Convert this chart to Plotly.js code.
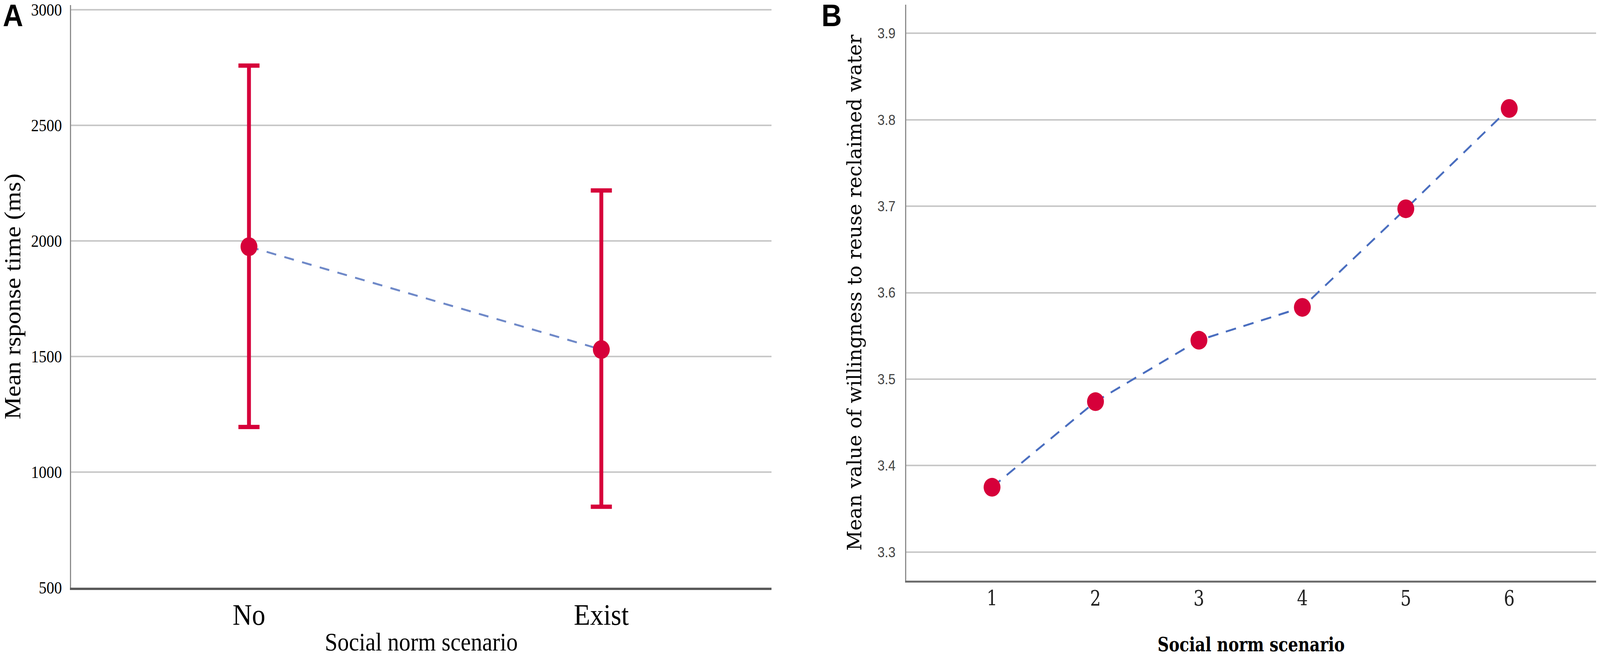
<!DOCTYPE html>
<html><head><meta charset="utf-8">
<script src="https://cdn.plot.ly/plotly-3.0.1.min.js"></script>
<style>html,body{margin:0;padding:0;background:#fff;overflow:hidden}#chart{position:absolute;left:0;top:0;width:4550px;height:1680px;transform-origin:0 0}</style>
</head><body><div id="chart"></div>
<script>
// ---- Panel A data ----
const scenariosA = ['No', 'Exist'];
const meanA = [1975, 1530];
const upperA = [2758, 2218];
const lowerA = [1195, 850];
const yTicksA = [500, 1000, 1500, 2000, 2500, 3000];

// ---- Panel B data ----
const scenariosB = [1, 2, 3, 4, 5, 6];
const meanB = [3.375, 3.474, 3.545, 3.583, 3.697, 3.813];
const yTicksB = [3.3, 3.4, 3.5, 3.6, 3.7, 3.8, 3.9];

const W = 4550, H = 1680;
const px = v => v / W;
const py = v => 1 - v / H;

const RED = '#d6003a';
const SERIF = 'Liberation Serif, Times New Roman, serif';
const SERIF_B = 'DejaVu Serif Condensed, DejaVu Serif, serif';
const SANS = 'Liberation Sans, Arial, sans-serif';

const errPlus = meanA.map((m, i) => upperA[i] - m);
const errMinus = meanA.map((m, i) => m - lowerA[i]);

const traces = [
  { x: scenariosA, y: meanA, xaxis: 'x', yaxis: 'y', mode: 'lines', type: 'scatter',
    line: { color: '#6f89c8', width: 5, dash: '28px,24px' }, hoverinfo: 'skip', showlegend: false },
  { x: scenariosA, y: meanA, xaxis: 'x', yaxis: 'y', mode: 'markers', type: 'scatter',
    marker: { color: RED, size: 48 },
    error_y: { type: 'data', array: errPlus, arrayminus: errMinus, symmetric: false,
               color: RED, thickness: 11, width: 30 }, showlegend: false },
  { x: scenariosB, y: meanB, xaxis: 'x2', yaxis: 'y2', mode: 'lines+markers', type: 'scatter',
    line: { color: '#4a6ebf', width: 5, dash: '30px,22px' },
    marker: { color: RED, size: 48 }, showlegend: false }
];

const layout = {
  width: W, height: H,
  margin: { l: 0, r: 0, t: 0, b: 0, pad: 0 },
  paper_bgcolor: '#ffffff', plot_bgcolor: '#ffffff',
  showlegend: false,
  xaxis: {
    domain: [px(202), px(2194)], anchor: 'y', type: 'category',
    range: [-0.505, 1.483], showgrid: false, zeroline: false,
    showline: true, linecolor: '#5a5a5a', linewidth: 6, ticks: '',
    tickfont: { family: SERIF, size: 76, color: '#000' }, ticklabelstandoff: -2,
    title: { text: 'Social norm scenario', font: { family: SERIF, size: 65, color: '#000' }, standoff: 42 },
    automargin: false
  },
  yaxis: {
    domain: [py(1505), py(13)], anchor: 'x',
    range: [500, 3020], tickvals: yTicksA, ticktext: yTicksA.map(String),
    showgrid: true, gridcolor: '#c8c8c8', gridwidth: 4, zeroline: false,
    showline: true, linecolor: '#8c8c8c', linewidth: 3, ticks: '',
    tickfont: { family: SERIF, size: 44, color: '#000' }, ticklabelstandoff: 14,
    title: { text: 'Mean rsponse time (ms)', font: { family: SERIF, size: 65, color: '#000' }, standoff: 28 },
    automargin: false
  },
  xaxis2: {
    domain: [px(2577), px(4539)], anchor: 'y2',
    range: [0.17, 6.84], tickvals: scenariosB, ticktext: scenariosB.map(String),
    showgrid: false, zeroline: false,
    showline: true, linecolor: '#6e6e6e', linewidth: 5, ticks: '',
    tickfont: { family: SERIF_B, size: 54, color: '#222' }, ticklabelstandoff: -6,
    title: { text: 'Social norm scenario', font: { family: SERIF_B, size: 50, color: '#000', weight: 'bold' }, standoff: 74 },
    automargin: false
  },
  yaxis2: {
    domain: [py(1487), py(12)], anchor: 'x2',
    range: [3.267, 3.933], tickvals: yTicksB, ticktext: yTicksB.map(v => v.toFixed(1)),
    showgrid: true, gridcolor: '#c8c8c8', gridwidth: 4, zeroline: false,
    showline: true, linecolor: '#8c8c8c', linewidth: 3, ticks: '',
    tickfont: { family: SANS, size: 37, color: '#444' }, ticklabelstandoff: 20,
    title: { text: 'Mean value of willingness to reuse reclaimed water', font: { family: SERIF_B, size: 56, color: '#000' }, standoff: 28 },
    automargin: false
  },
  annotations: [
    { text: 'A', xref: 'paper', yref: 'paper', x: px(37), y: py(39), xanchor: 'center', yanchor: 'middle',
      showarrow: false, font: { family: SANS, size: 80, color: '#000', weight: 'bold' } },
    { text: 'B', xref: 'paper', yref: 'paper', x: px(2365), y: py(39), xanchor: 'center', yanchor: 'middle',
      showarrow: false, font: { family: SANS, size: 80, color: '#000', weight: 'bold' } }
  ]
};

Plotly.newPlot('chart', traces, layout, { displayModeBar: false, staticPlot: true }).then(() => {
  const sx = window.innerWidth / W;
  const sy = window.innerHeight / H;
  if (sx < 1 || sy < 1) {
    document.getElementById('chart').style.transform = 'scale(' + Math.min(sx, 1) + ',' + Math.min(sy, 1) + ')';
  }
});
</script>
</body></html>
